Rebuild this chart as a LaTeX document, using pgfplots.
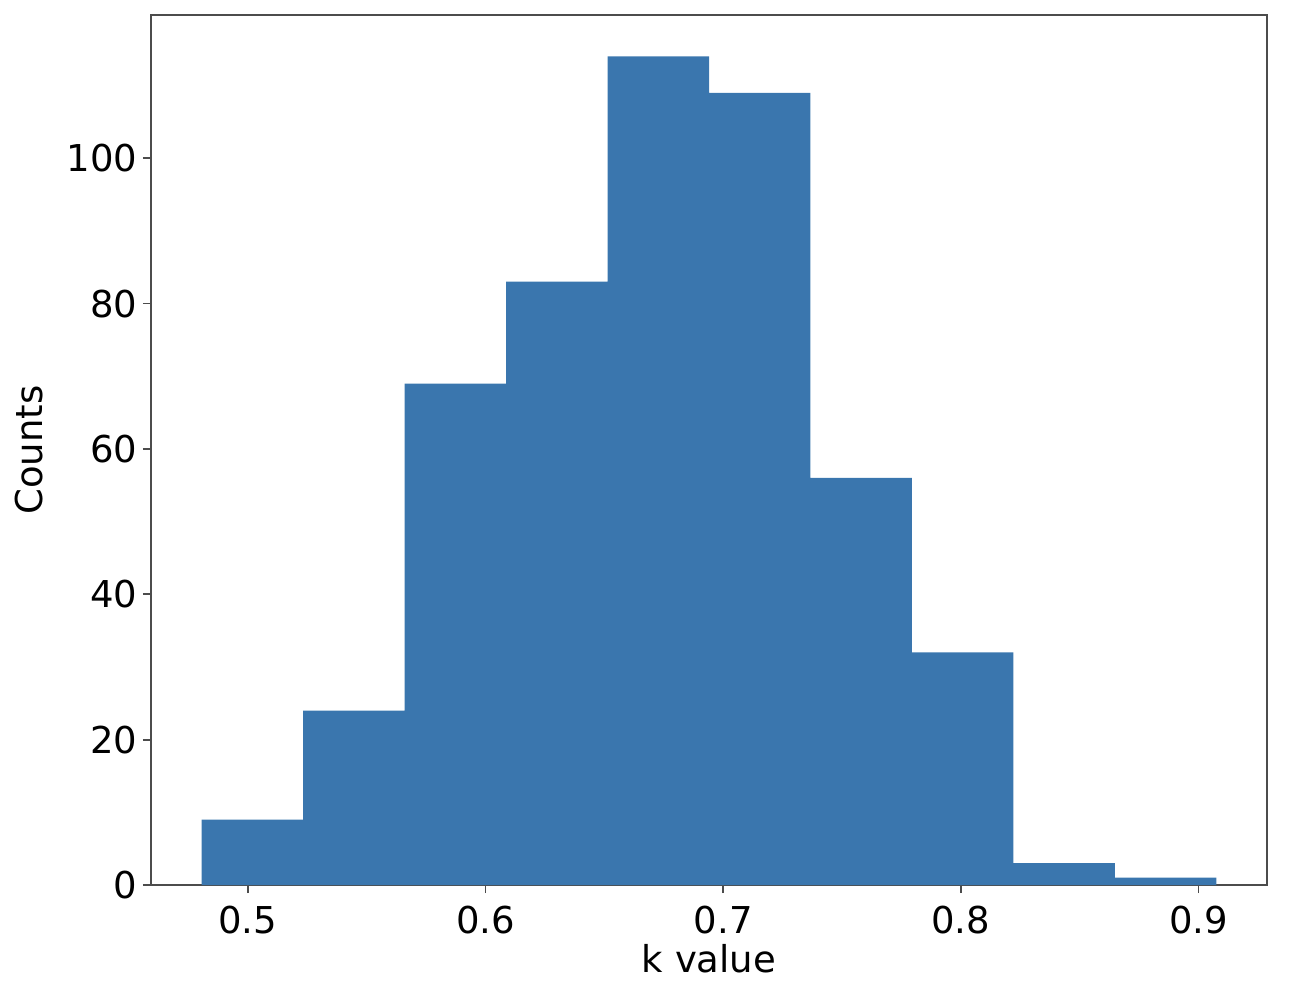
\documentclass[border=0pt]{standalone}
\usepackage{fontspec}
\setmainfont{DejaVu Sans}
\usepackage{pgfplots}
\pgfplotsset{compat=1.18}
\usetikzlibrary{calc}
\definecolor{barblue}{HTML}{3A76AE}
\begin{document}
\fontsize{18.5}{22}\selectfont
\begin{tikzpicture}
\begin{axis}[
  name=ax,
  scale only axis,
  width=558pt, height=435pt,
  xmin=0.4593, xmax=0.9288,
  ymin=0, ymax=119.7,
  xtick={0.5,0.6,0.7,0.8,0.9},
  ytick={0,20,40,60,80,100},
  xticklabel style={/pgf/number format/fixed,/pgf/number format/precision=1,/pgf/number format/fixed zerofill},
  yticklabel style={xshift=3.5pt},
  /pgf/number format/assume math mode=true,
  tick align=outside,
  tick pos=left,
  major tick length=4pt,
  axis line style={black!70, line width=0.9pt},
  every tick/.style={black!70, line width=0.9pt},
  tick label style={font=\fontsize{18.5}{22}\selectfont},
  label style={font=\fontsize{18.5}{22}\selectfont},
  xlabel={k value},
  ylabel={Counts},
  xlabel style={yshift=7pt},
  ylabel style={yshift=-0.5pt},
]
\addplot[ybar interval, fill=barblue, draw=none] coordinates {
(0.4806,9) (0.5233,24) (0.5660,69) (0.6087,83) (0.6514,114)
(0.6941,109) (0.7367,56) (0.7794,32) (0.8221,3) (0.8648,1) (0.9075,1)
};
\end{axis}
\pgfresetboundingbox
\path[use as bounding box] ($(ax.south west)+(-75.5pt,-53.5pt)$) rectangle ($(ax.north east)+(15.5pt,7.5pt)$);
\end{tikzpicture}
\end{document}
